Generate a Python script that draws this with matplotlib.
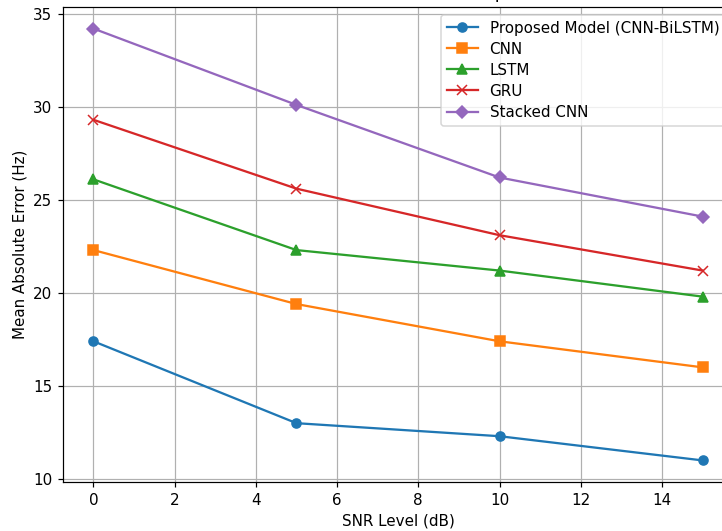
import matplotlib
matplotlib.use("Agg")
import matplotlib.pyplot as plt

snr = [0, 5, 10, 15]
proposed = [17.4, 13.0, 12.3, 11.0]
cnn = [22.3, 19.4, 17.4, 16.0]
lstm = [26.1, 22.3, 21.2, 19.8]
gru = [29.3, 25.6, 23.1, 21.2]
stacked = [34.2, 30.1, 26.2, 24.1]
labels = ["Proposed Model (CNN-BiLSTM)", "CNN", "LSTM", "GRU", "Stacked CNN"]

DPI = 109
fig = plt.figure(figsize=(722/DPI, 531/DPI), dpi=DPI)
ax = fig.add_axes([63/722, 49/531, (733-63)/722, (482-7)/531])

ax.plot(snr, proposed, marker="o", label=labels[0])
ax.plot(snr, cnn, marker="s", label=labels[1])
ax.plot(snr, lstm, marker="^", label=labels[2])
ax.plot(snr, gru, marker="x", label=labels[3])
ax.plot(snr, stacked, marker="D", label=labels[4])

ax.set_xlabel("SNR Level (dB)")
ax.set_ylabel("Mean Absolute Error (Hz)")
ax.set_title("Mean Absolute Error vs SNR Level (Comparison of Models)")
ax.grid(True)
ax.legend(loc="upper right", labelspacing=0.4)

fig.savefig("out.png", dpi=DPI)
